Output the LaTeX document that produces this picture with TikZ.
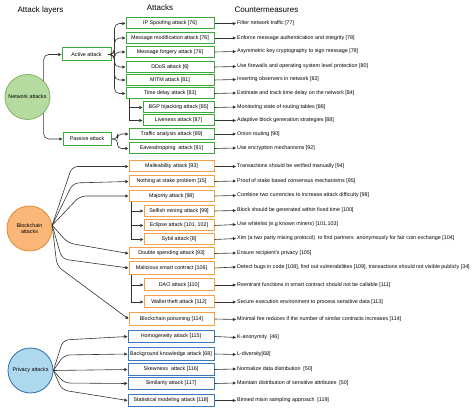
\documentclass[tikz,border=0pt]{standalone}
\usepackage{fontspec}
\setmainfont{Liberation Sans}
\usetikzlibrary{arrows.meta}
\definecolor{gline}{HTML}{3DAA3D}
\definecolor{gfill}{HTML}{B5DBA0}
\definecolor{gcirc}{HTML}{82B366}
\definecolor{oline}{HTML}{F5A04A}
\definecolor{ofill}{HTML}{FBB77A}
\definecolor{ocirc}{HTML}{E08A2E}
\definecolor{bline}{HTML}{3A78C0}
\definecolor{bfill}{HTML}{AED8EE}
\definecolor{bcirc}{HTML}{2F6DA6}
\definecolor{cline}{HTML}{333333}
\begin{document}
\begin{tikzpicture}[x=1pt,y=-1pt,
  sm/.style={font=\fontsize{5.35}{6.4}\selectfont},
  basebox/.style={sm, draw, line width=1pt, inner sep=0pt, fill=white, align=center},
  gbx/.style={basebox, draw=gline, minimum height=11pt},
  obx/.style={basebox, draw=oline, minimum height=11pt},
  pbx/.style={basebox, draw=bline, minimum height=12.5pt, minimum width=86pt},
  layer/.style={sm, circle, line width=0.8pt, minimum size=45pt, inner sep=0pt, align=center},
  cmtext/.style={sm, anchor=west, inner sep=1pt},
  ttl/.style={font=\fontsize{8}{9.6}\selectfont, inner sep=0pt},
  conn/.style={draw=cline, line width=0.6pt, -{Triangle[length=3.2pt,width=3pt]}},
  rc/.style={rounded corners=5pt}
]
\useasboundingbox (0,0) rectangle (474,411);

% titles
\node[ttl] (t1) at (40.5,10) {Attack layers};
\node[ttl] (t2) at (160,8) {Attacks};
\node[ttl, anchor=west] (t3) at (234.5,10) {Countermeasures};

% layers
\node[layer, draw=gcirc, fill=gfill] (net) at (27.5,97) {Network attacks};
\node[layer, draw=ocirc, fill=ofill] (bc) at (29.5,228.5) {Blockchain\\attacks};
\node[layer, draw=bcirc, fill=bfill] (priv) at (30.5,370.5) {Privacy attacks};

% network attacks
\node[gbx, minimum width=49pt, minimum height=13pt] (active) at (86.5,54.5) {Active attack};
\node[gbx, minimum width=48pt, minimum height=13.5pt] (passive) at (87,139) {Passive attack};
\node[gbx, minimum width=88pt] (ip) at (170,23.5) {IP Spoofing attack [76]};
\node[gbx, minimum width=88pt] (mmod) at (170,38) {Message modification attack [76]};
\node[gbx, minimum width=88pt] (mforg) at (170,52) {Message forgery attack [76]};
\node[gbx, minimum width=88pt] (ddos) at (170,67) {DDoS attack [6]};
\node[gbx, minimum width=88pt] (mitm) at (170,80) {MITM attack [81]};
\node[gbx, minimum width=88pt] (tdel) at (170,93.5) {Time delay attack [83]};
\node[gbx, minimum width=71pt] (bgp) at (178.5,107.5) {BGP hijacking attack [85]};
\node[gbx, minimum width=71pt] (live) at (178.5,120.5) {Liveness attack [87]};
\node[gbx, minimum width=85pt] (traf) at (171.5,134) {Traffic analysis attack [89]};
\node[gbx, minimum width=85pt] (eave) at (171.5,148.5) {Eavesdropping\ \ attack [91]};

% blockchain attacks
\node[obx, minimum width=85pt] (mall) at (171.5,166.5) {Malleability attack [93]};
\node[obx, minimum width=85pt] (noth) at (171.5,181.5) {Nothing at stake problem [15]};
\node[obx, minimum width=85pt] (maj) at (171.5,196) {Majority attack [98]};
\node[obx, minimum width=70pt] (self) at (179,211) {Selfish mining attack [99]};
\node[obx, minimum width=70pt] (ecl) at (179,225.5) {Eclipse attack [101, 102]};
\node[obx, minimum width=70pt] (syb) at (179,239.5) {Sybil attack [8]};
\node[obx, minimum width=85pt] (dbl) at (171.5,253.5) {Double spending attack [93]};
\node[obx, minimum width=85pt, minimum height=12.5pt] (mal) at (171.5,268) {Malicious smart contract [106]};
\node[obx, minimum width=70pt, minimum height=12pt] (dao) at (179,285) {DAO attack [110]};
\node[obx, minimum width=70pt, minimum height=12pt] (wal) at (179,302) {Wallet theft attack [112]};
\node[obx, minimum width=85pt, minimum height=13pt] (poi) at (171.5,319) {Blockchain poisoning [114]};

% privacy attacks
\node[pbx] (homo) at (171,336.5) {Homogeneity attack [115]};
\node[pbx] (back) at (171,354) {Background knowledge attack [68]};
\node[pbx] (skew) at (171,369.5) {Skewness\ \ attack [116]};
\node[pbx] (simi) at (171,383.5) {Similarity attack [117]};
\node[pbx] (stat) at (171,400.5) {Statistical modeling attack [118]};

% countermeasures
\node[cmtext] (c1) at (236,23.5) {Filter network traffic [77]};
\node[cmtext] (c2) at (236,38) {Enforce message authentication and integrity [78]};
\node[cmtext] (c3) at (236,51.5) {Asymmetric key cryptography to sign message [79]};
\node[cmtext] (c4) at (236,66.5) {Use firewalls and operating system level protection [80]};
\node[cmtext] (c5) at (236,79.5) {Inserting observers in network [82]};
\node[cmtext] (c6) at (236,93) {Estimate and track time delay on the network [84]};
\node[cmtext] (c7) at (236,107) {Monitoring state of routing tables [86]};
\node[cmtext] (c8) at (236,120.5) {Adaptive block generation strategies [88]};
\node[cmtext] (c9) at (236,134) {Onion routing [90]};
\node[cmtext] (c10) at (236,148) {Use encryption mechanisms [92]};
\node[cmtext] (c11) at (236,166.5) {Transactions should be verified manually [94]};
\node[cmtext] (c12) at (236,181) {Proof of stake based consensus mechanisms [95]};
\node[cmtext] (c13) at (236,195.5) {Combine two currencies to increase attack difficulty [98]};
\node[cmtext] (c14) at (236,210.5) {Block should be generated within fixed time [100]};
\node[cmtext] (c15) at (236,224.5) {Use whitelist (e.g known miners) [101,103]};
\node[cmtext] (c16) at (236,238.5) {Xim (a two party mixing protocol)\ \ to find partners\ \ anonymously for fair coin exchange [104]};
\node[cmtext] (c17) at (236,253) {Ensure recipient's privacy [105]};
\node[cmtext] (c18) at (236,267) {Detect bugs in code [108], find out vulnerabilities [109], transactions should not visible publicly [34]};
\node[cmtext] (c19) at (236,285) {Reentrant functions in smart contract should not be callable [111]};
\node[cmtext] (c20) at (236,302) {Secure execution environment to process sensitive data [113]};
\node[cmtext] (c21) at (236,319.5) {Minimal fee reduces if the number of similar contracts increases [114]};
\node[cmtext] (c22) at (236,337.5) {K-anonymity\ \ [46]};
\node[cmtext] (c23) at (236,354.5) {L-diversity[68]};
\node[cmtext] (c24) at (236,369) {Normalize data distribution\ \ [50]};
\node[cmtext] (c25) at (236,383) {Maintain distribution of sensitive attributes\ \ [50]};
\node[cmtext] (c26) at (236,400.5) {Binned mixin sampling approach\ \ [119]};

% layer -> attack type
\draw[conn, rc] (net.45) |- (active.west);
\draw[conn, rc] (net.-45) |- (passive.west);

% active attack
\foreach \t in {ip,mmod,mforg,ddos,mitm,tdel}
  \draw[conn, rc] (active.east) -- ++(3,0) |- (\t.west);
% passive attack
\foreach \t in {traf,eave}
  \draw[conn, rounded corners=4pt] (passive.east) -- ++(6,0) |- (\t.west);
% time delay sub attacks
\foreach \t in {bgp,live}
  \draw[conn] ([xshift=4pt]tdel.south west) |- (\t.west);

% blockchain
\draw[conn, rounded corners=6pt] (bc.8) -- (72,166.5) -- (mall.west);
\draw[conn, rounded corners=6pt] (bc.8) -- (73,183) -- (noth.west);
\draw[conn, rounded corners=6pt] (bc.8) -- (80,196) -- (maj.west);
\draw[conn, rounded corners=6pt] (bc.8) -- (68,243) -- (dbl.west);
\draw[conn, rounded corners=6pt] (bc.8) -- (62,259) -- (mal.west);
\draw[conn, rounded corners=6pt] (bc.8) -- (57,266) -- (poi.west);
\foreach \t in {self,ecl,syb}
  \draw[conn] ([xshift=3pt]maj.south west) |- (\t.west);
\foreach \t in {dao,wal}
  \draw[conn] ([xshift=3pt]mal.south west) |- (\t.west);

% privacy
\draw[conn, rounded corners=6pt] (priv.east) -- (63,340) -- (homo.west);
\draw[conn, rounded corners=6pt] (priv.east) -- (64,355) -- (back.west);
\draw[conn] (priv.east) -- (skew.west);
\draw[conn, rounded corners=6pt] (priv.east) -- (64,383) -- (simi.west);
\draw[conn, rounded corners=6pt] (priv.east) -- (62,390) -- (stat.west);

% attack -> countermeasure
\foreach \a/\c in {ip/c1,mmod/c2,mforg/c3,ddos/c4,mitm/c5,tdel/c6,bgp/c7,live/c8,traf/c9,eave/c10,
  mall/c11,noth/c12,maj/c13,self/c14,ecl/c15,syb/c16,dbl/c17,mal/c18,dao/c19,wal/c20,poi/c21,
  homo/c22,back/c23,skew/c24,simi/c25,stat/c26}
  \draw[conn] (\a.east) -- (\c.west);
\end{tikzpicture}
\end{document}
